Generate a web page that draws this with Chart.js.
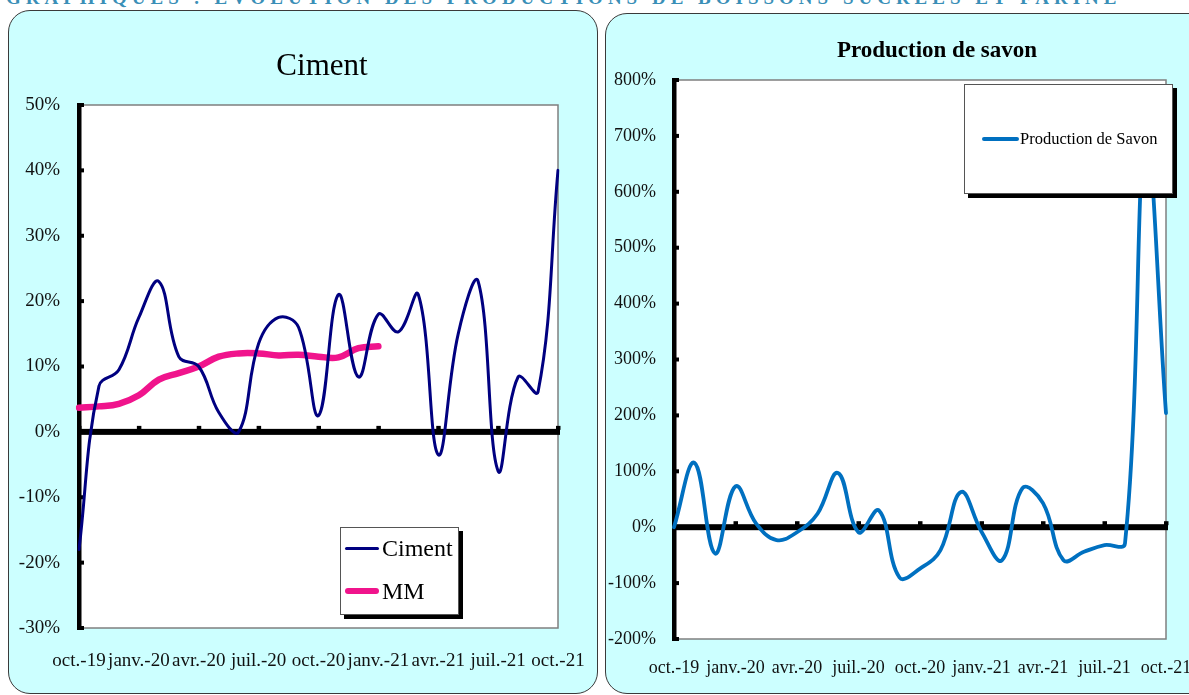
<!DOCTYPE html>
<html>
<head>
<meta charset="utf-8">
<script src="https://cdn.jsdelivr.net/npm/chart.js@4.4.1/dist/chart.umd.min.js"></script>
<style>
html,body{margin:0;padding:0;background:#fff;width:1189px;height:695px;overflow:hidden;position:relative;font-family:"Liberation Serif",serif;}
#hdr{position:absolute;left:6px;top:-13px;font:bold 19px "Liberation Serif",serif;color:#3a8fb7;white-space:nowrap;letter-spacing:5px;}
.panel{position:absolute;background:#ccffff;border:1px solid #3a3a3a;border-radius:22px;}
#p1{left:8px;top:10px;width:588px;height:682px;}
#p2{left:605px;top:13px;width:620px;height:679px;}
canvas{position:absolute;top:0;}
#c1{left:0;}
#c2{left:600px;}
.title{position:absolute;white-space:nowrap;color:#000;text-align:center;}
#t1{left:222px;width:200px;top:49px;font-size:31px;line-height:31px;}
#t2{left:787px;width:300px;top:38px;font-size:23px;line-height:23px;font-weight:bold;}
.legend{position:absolute;background:#fff;border:1px solid #555;box-shadow:4px 4px 0 #000;}
.sw{position:absolute;border-radius:3px;}
.lt{position:absolute;color:#000;white-space:nowrap;}
</style>
</head>
<body>
<div id="hdr">GRAPHIQUES : ÉVOLUTION DES PRODUCTIONS DE BOISSONS SUCRÉES ET FARINE</div>
<div class="panel" id="p1"></div>
<div class="panel" id="p2"></div>
<canvas id="c1" width="600" height="695"></canvas>
<canvas id="c2" width="620" height="695"></canvas>
<div class="title" id="t1">Ciment</div>
<div class="title" id="t2">Production de savon</div>
<div class="legend" id="lg1" style="left:340px;top:527px;width:117px;height:86px;"></div>
<div class="legend" id="lg2" style="left:964px;top:84px;width:207px;height:108px;"></div>
<script>
// ---- Data ----
const months = ["oct.-19","nov.-19","déc.-19","janv.-20","févr.-20","mars-20","avr.-20","mai-20","juin-20","juil.-20","août-20","sept.-20","oct.-20","nov.-20","déc.-20","janv.-21","févr.-21","mars-21","avr.-21","mai-21","juin-21","juil.-21","août-21","sept.-21","oct.-21"];
const quarterLabels = ["oct.-19","janv.-20","avr.-20","juil.-20","oct.-20","janv.-21","avr.-21","juil.-21","oct.-21"];
const cimentName = "Ciment";
const cimentValues = [-18, 7, 9.5, 17.5, 23, 11.5, 10, 3, 0, 13.5, 17.5, 16, 2.5, 21, 8.4, 18, 15.3, 21, -3.5, 15, 23, -6, 8.4, 6.1, 40];
const mmName = "MM";
const mmValues = [3.7, 3.9, 4.3, 5.6, 8, 9, 10, 11.5, 12, 12, 11.7, 11.8, 11.5, 11.4, 12.8, 13.1];
const savonName = "Production de Savon";
const savonValues = [0, 115, -47, 73, 7, -23, -9, 24, 97, -9, 30, -90, -74, -41, 63, -8, -59, 70, 43, -59, -44, -32, -29, 700, 204];

// ---- Styles ----
const FONT = '"Liberation Serif", serif';
const cimentColor = '#000080';
const mmColor = '#f0148c';
const savonColor = '#0070c0';

const excelAxes = {
  id: 'excelAxes',
  beforeDatasetsDraw(chart) {
    const {ctx, chartArea: a, scales: {x, y}} = chart;
    ctx.save();
    ctx.fillStyle = '#fff';
    ctx.fillRect(a.left, a.top, a.right - a.left, a.bottom - a.top);
    ctx.strokeStyle = '#7f7f7f';
    ctx.lineWidth = 1.5;
    ctx.strokeRect(a.left, a.top, a.right - a.left, a.bottom - a.top);
    ctx.fillStyle = '#000';
    // vertical axis
    ctx.fillRect(a.left - 2, a.top - 2, 4.5, a.bottom - a.top + 4);
    y.ticks.forEach((t, i) => {
      const py = y.getPixelForTick(i);
      ctx.fillRect(a.left, py - 2, 5, 4);
    });
    // zero line
    const z = y.getPixelForValue(0);
    ctx.fillRect(a.left, z - 3, a.right - a.left + 2, 6);
    x.ticks.forEach((t, i) => {
      if (quarterLabels.includes(months[i])) {
        const px = x.getPixelForTick(i);
        ctx.fillRect(px - 2, z - 6, 4.5, 4);
      }
    });
    ctx.restore();
  }
};

function makeChart(id, datasets, yMin, yMax, step, opt) {
  return new Chart(document.getElementById(id), {
    type: 'line',
    data: {labels: months, datasets},
    options: {
      responsive: false,
      animation: false,
      layout: {padding: {left: 0, right: opt.padRight, top: opt.padTop, bottom: 0}},
      plugins: {legend: {display: false}, tooltip: {enabled: false}, title: {display: false}},
      elements: {point: {radius: 0}, line: {tension: 0.4, borderCapStyle: 'round', borderJoinStyle: 'round'}},
      scales: {
        x: {
          type: 'category', offset: false,
          grid: {display: false, drawTicks: true, tickLength: opt.xPad}, border: {display: false},
          ticks: {autoSkip: false, maxRotation: 0, minRotation: 0, padding: 0, color: '#111',
            font: {family: FONT, size: opt.xFont},
            callback: (v, i) => quarterLabels.includes(months[i]) ? months[i] : ''},
          afterFit: s => { s.height = opt.xHeight; }
        },
        y: {
          min: yMin, max: yMax,
          grid: {display: false, drawTicks: false}, border: {display: false},
          ticks: {stepSize: step, padding: opt.yPad, color: '#111',
            font: {family: FONT, size: opt.yFont},
            callback: v => v + '%'},
          afterFit: s => { s.width = opt.yWidth; }
        }
      }
    },
    plugins: [excelAxes]
  });
}

makeChart('c1', [
  {label: cimentName, data: cimentValues, borderColor: cimentColor, borderWidth: 3},
  {label: mmName, data: mmValues, borderColor: mmColor, borderWidth: 6.5}
], -30, 50, 10, {padRight: 42, padTop: 105, xHeight: 67, yWidth: 79, xPad: 22, yPad: 19, xFont: 19, yFont: 19});

makeChart('c2', [
  {label: savonName, data: savonValues, borderColor: savonColor, borderWidth: 3.8}
], -200, 800, 100, {padRight: 54, padTop: 80, xHeight: 56, yWidth: 74, xPad: 18, yPad: 18, xFont: 18, yFont: 18});

// ---- Legends (HTML) ----
function legend(id, items, swLeft, swW, txtLeft, fontSize, rows) {
  const box = document.getElementById(id);
  items.forEach((it, k) => {
    const cy = rows[k];
    const sw = document.createElement('div');
    sw.className = 'sw';
    sw.style.cssText = `left:${swLeft}px;width:${swW}px;top:${cy - it.w / 2}px;height:${it.w}px;background:${it.c};`;
    box.appendChild(sw);
    const t = document.createElement('div');
    t.className = 'lt';
    t.textContent = it.name;
    t.style.cssText = `left:${txtLeft}px;top:${cy - fontSize * 0.6}px;font-size:${fontSize}px;line-height:${fontSize * 1.2}px;`;
    box.appendChild(t);
  });
}
legend('lg1', [{name: cimentName, c: cimentColor, w: 3}, {name: mmName, c: mmColor, w: 6}], 4, 34, 41, 24, [20, 63]);
legend('lg2', [{name: savonName, c: savonColor, w: 4}], 17, 37, 55, 16.5, [54]);
</script>
</body>
</html>
